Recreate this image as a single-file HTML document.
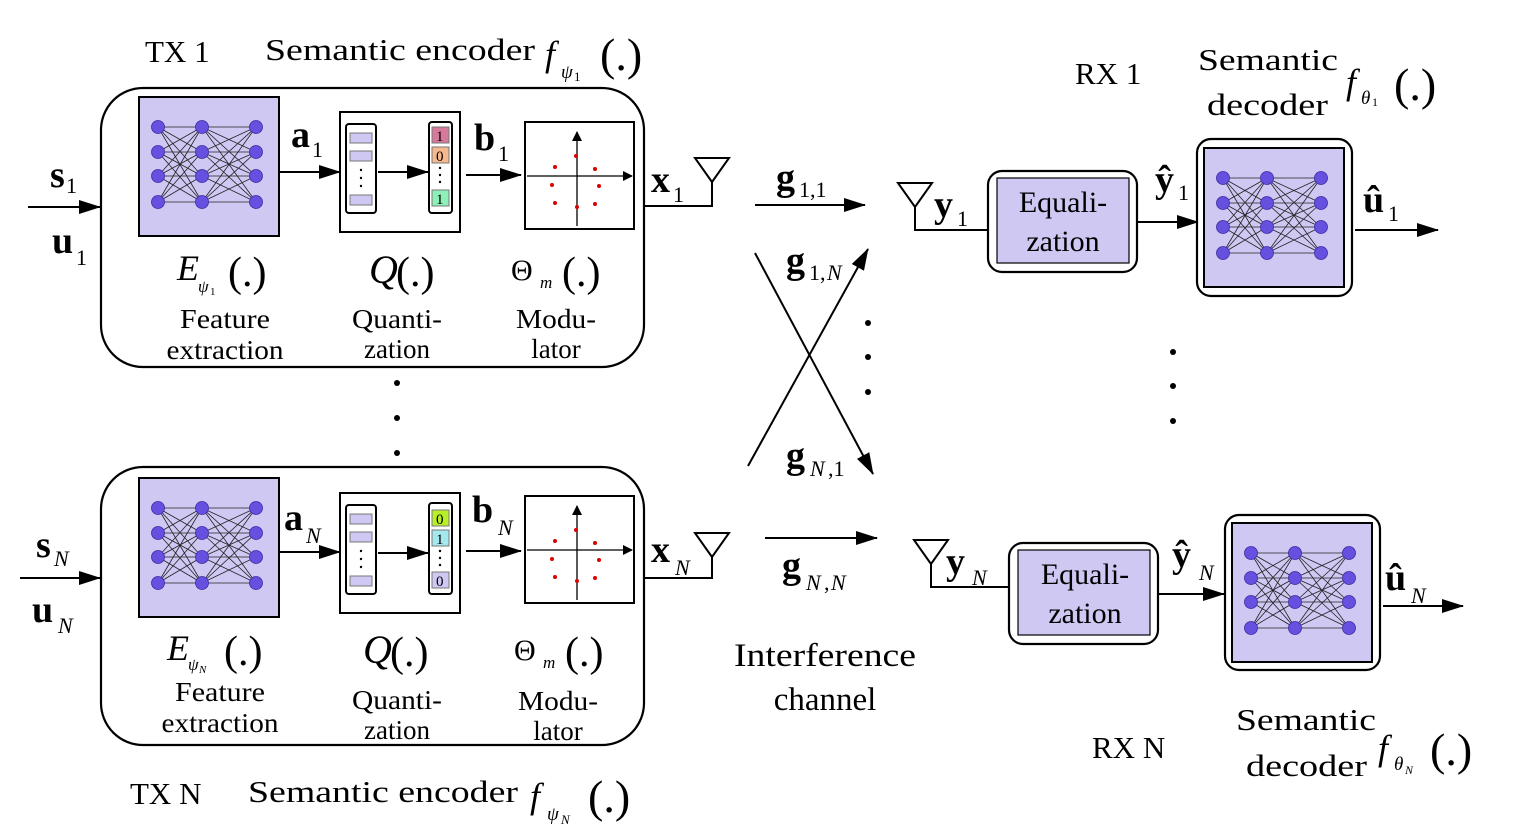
<!DOCTYPE html>
<html><head><meta charset="utf-8"><style>
html,body{margin:0;padding:0;background:#fff;}
svg{display:block;}
text{font-family:"Liberation Serif",serif;fill:#000;}
.b{font-weight:bold;}
.i{font-style:italic;}
</style></head><body>
<svg width="1526" height="840" viewBox="0 0 1526 840" xmlns="http://www.w3.org/2000/svg">
<defs>
<marker id="ar" markerWidth="10" markerHeight="10" refX="9" refY="5" orient="auto" markerUnits="userSpaceOnUse" viewBox="0 0 10 10">
<path d="M0,0 L10,5 L0,10 Z" fill="#000"/></marker>
<marker id="ab" markerWidth="22" markerHeight="14" refX="21" refY="7" orient="auto" markerUnits="userSpaceOnUse" viewBox="0 0 22 14">
<path d="M0,0 L22,7 L0,14 Z" fill="#000"/></marker>
<g id="nn">
<rect x="0" y="0" width="140" height="139" fill="#cfc8f3" stroke="#000" stroke-width="2"/>
<g stroke="#222" stroke-width="0.8">
<path d="M19,30L63,30M19,30L63,55M19,30L63,79M19,30L63,105M19,55L63,30M19,55L63,55M19,55L63,79M19,55L63,105M19,79L63,30M19,79L63,55M19,79L63,79M19,79L63,105M19,105L63,30M19,105L63,55M19,105L63,79M19,105L63,105"/>
<path d="M63,30L117,30M63,30L117,55M63,30L117,79M63,30L117,105M63,55L117,30M63,55L117,55M63,55L117,79M63,55L117,105M63,79L117,30M63,79L117,55M63,79L117,79M63,79L117,105M63,105L117,30M63,105L117,55M63,105L117,79M63,105L117,105"/>
</g>
<g fill="#6650e0" stroke="#3a2aa0" stroke-width="0.8">
<circle cx="19" cy="30" r="6.5"/><circle cx="19" cy="55" r="6.5"/><circle cx="19" cy="79" r="6.5"/><circle cx="19" cy="105" r="6.5"/>
<circle cx="63" cy="30" r="6.5"/><circle cx="63" cy="55" r="6.5"/><circle cx="63" cy="79" r="6.5"/><circle cx="63" cy="105" r="6.5"/>
<circle cx="117" cy="30" r="6.5"/><circle cx="117" cy="55" r="6.5"/><circle cx="117" cy="79" r="6.5"/><circle cx="117" cy="105" r="6.5"/>
</g>
</g>
<g id="con">
<rect x="0" y="0" width="109" height="107" fill="#fff" stroke="#000" stroke-width="2"/>
<line x1="52" y1="104" x2="52" y2="10" stroke="#000" stroke-width="1.3" marker-end="url(#ar)"/>
<line x1="2" y1="54" x2="107" y2="54" stroke="#000" stroke-width="1.3" marker-end="url(#ar)"/>
<g fill="#d00"><circle cx="51" cy="34" r="2"/><circle cx="30" cy="45" r="2"/><circle cx="70" cy="47" r="2"/><circle cx="27" cy="63" r="2"/><circle cx="74" cy="64" r="2"/><circle cx="30" cy="81" r="2"/><circle cx="52" cy="85" r="2"/><circle cx="70" cy="82" r="2"/></g>
</g>
<g id="qlft">
<rect x="6" y="12" width="30" height="89" rx="3" fill="#fff" stroke="#000" stroke-width="2"/>
<rect x="10" y="21" width="22" height="10" fill="#cfc8f3" stroke="#777"/>
<rect x="10" y="39" width="22" height="10" fill="#cfc8f3" stroke="#777"/>
<rect x="10" y="83" width="22" height="10" fill="#cfc8f3" stroke="#777"/>
<circle cx="21" cy="58" r="1.2"/><circle cx="21" cy="66" r="1.2"/><circle cx="21" cy="74" r="1.2"/>
</g>
</defs>

<!-- TX1 -->
<text x="145" y="62" font-size="31">TX 1</text>
<text x="265" y="60" font-size="31" textLength="270" lengthAdjust="spacingAndGlyphs">Semantic encoder</text>
<text x="545" y="66" font-size="36" class="i">f</text><text x="561" y="78" font-size="19" class="i">ψ</text><text x="574" y="81" font-size="13">1</text>
<text x="600" y="70" font-size="46">(.)</text>
<rect x="101" y="88" width="543" height="279" rx="42" fill="none" stroke="#000" stroke-width="2.2"/>
<use href="#nn" x="139" y="97"/>
<rect x="340" y="112" width="120" height="120" fill="#fff" stroke="#000" stroke-width="2"/>
<use href="#qlft" x="340" y="112"/>
<rect x="429" y="122" width="23" height="91" rx="3" fill="#fff" stroke="#000" stroke-width="2"/>
<rect x="432" y="127" width="17" height="16" fill="#d7799b" stroke="#777"/><text x="436" y="141" font-size="15">1</text>
<rect x="432" y="147" width="17" height="16" fill="#f6b88d" stroke="#777"/><text x="436" y="161" font-size="15">0</text>
<circle cx="440" cy="168" r="1.2"/><circle cx="440" cy="175" r="1.2"/><circle cx="440" cy="182" r="1.2"/>
<rect x="432" y="190" width="17" height="16" fill="#8df0b8" stroke="#777"/><text x="436" y="204" font-size="15">1</text>
<use href="#con" x="525" y="122"/>
<line x1="279" y1="172" x2="340" y2="172" stroke="#000" stroke-width="2" marker-end="url(#ab)"/>
<line x1="378" y1="172" x2="428" y2="172" stroke="#000" stroke-width="2" marker-end="url(#ab)"/>
<line x1="466" y1="175" x2="521" y2="175" stroke="#000" stroke-width="2" marker-end="url(#ab)"/>
<text x="291" y="147" font-size="38" class="b">a</text><text x="312" y="157" font-size="22">1</text>
<text x="474" y="150" font-size="38" class="b">b</text><text x="498" y="161" font-size="22">1</text>
<text x="177" y="280" font-size="36" class="i">E</text><text x="198" y="292" font-size="17" class="i">ψ</text><text x="210" y="295" font-size="11">1</text><text x="228" y="286" font-size="42">(.)</text>
<text x="369" y="283" font-size="40" class="i">Q</text><text x="396" y="286" font-size="42">(.)</text>
<text x="511" y="280" font-size="30">Θ</text><text x="540" y="288" font-size="17" class="i">m</text><text x="562" y="286" font-size="42">(.)</text>
<text x="225" y="328" font-size="27" text-anchor="middle" textLength="90" lengthAdjust="spacingAndGlyphs">Feature</text>
<text x="225" y="359" font-size="27" text-anchor="middle" textLength="117" lengthAdjust="spacingAndGlyphs">extraction</text>
<text x="397" y="328" font-size="27" text-anchor="middle" textLength="90" lengthAdjust="spacingAndGlyphs">Quanti-</text>
<text x="397" y="358" font-size="27" text-anchor="middle">zation</text>
<text x="556" y="328" font-size="27" text-anchor="middle" textLength="80" lengthAdjust="spacingAndGlyphs">Modu-</text>
<text x="556" y="358" font-size="27" text-anchor="middle">lator</text>
<line x1="28" y1="207" x2="100" y2="207" stroke="#000" stroke-width="2" marker-end="url(#ab)"/>
<text x="50" y="187" font-size="38" class="b">s</text><text x="66" y="193" font-size="22">1</text>
<text x="52" y="253" font-size="38" class="b">u</text><text x="76" y="265" font-size="22">1</text>
<polyline points="644,206 712,206 712,182" fill="none" stroke="#000" stroke-width="2"/>
<path d="M695,158 L729,158 L712,182 Z" fill="none" stroke="#000" stroke-width="2"/>
<text x="651" y="192" font-size="38" class="b">x</text><text x="673" y="202" font-size="22">1</text>

<!-- dots -->
<g fill="#000"><circle cx="397" cy="383" r="3"/><circle cx="397" cy="418" r="3"/><circle cx="397" cy="453" r="3"/>
<circle cx="868" cy="323" r="3"/><circle cx="868" cy="357" r="3"/><circle cx="868" cy="392" r="3"/>
<circle cx="1173" cy="352" r="3"/><circle cx="1173" cy="386" r="3"/><circle cx="1173" cy="421" r="3"/></g>

<!-- TXN -->
<rect x="101" y="467" width="543" height="278" rx="42" fill="none" stroke="#000" stroke-width="2.2"/>
<use href="#nn" x="139" y="478"/>
<rect x="340" y="493" width="120" height="120" fill="#fff" stroke="#000" stroke-width="2"/>
<use href="#qlft" x="340" y="493"/>
<rect x="429" y="503" width="23" height="91" rx="3" fill="#fff" stroke="#000" stroke-width="2"/>
<rect x="432" y="510" width="17" height="16" fill="#b8f028" stroke="#777"/><text x="436" y="524" font-size="15">0</text>
<rect x="432" y="530" width="17" height="16" fill="#a5e8f0" stroke="#777"/><text x="436" y="544" font-size="15">1</text>
<circle cx="440" cy="551" r="1.2"/><circle cx="440" cy="558" r="1.2"/><circle cx="440" cy="565" r="1.2"/>
<rect x="432" y="572" width="17" height="16" fill="#cfc8f3" stroke="#777"/><text x="436" y="586" font-size="15">0</text>
<use href="#con" x="525" y="496"/>
<line x1="279" y1="552" x2="340" y2="552" stroke="#000" stroke-width="2" marker-end="url(#ab)"/>
<line x1="378" y1="553" x2="428" y2="553" stroke="#000" stroke-width="2" marker-end="url(#ab)"/>
<line x1="466" y1="551" x2="521" y2="551" stroke="#000" stroke-width="2" marker-end="url(#ab)"/>
<text x="284" y="530" font-size="38" class="b">a</text><text x="306" y="543" font-size="22" class="i">N</text>
<text x="472" y="522" font-size="38" class="b">b</text><text x="498" y="535" font-size="22" class="i">N</text>
<text x="167" y="660" font-size="36" class="i">E</text><text x="188" y="670" font-size="17" class="i">ψ</text><text x="199" y="673" font-size="11" class="i">N</text><text x="224" y="665" font-size="42">(.)</text>
<text x="363" y="663" font-size="40" class="i">Q</text><text x="390" y="666" font-size="42">(.)</text>
<text x="514" y="660" font-size="30">Θ</text><text x="543" y="668" font-size="17" class="i">m</text><text x="565" y="666" font-size="42">(.)</text>
<text x="220" y="701" font-size="27" text-anchor="middle" textLength="90" lengthAdjust="spacingAndGlyphs">Feature</text>
<text x="220" y="732" font-size="27" text-anchor="middle" textLength="117" lengthAdjust="spacingAndGlyphs">extraction</text>
<text x="397" y="709" font-size="27" text-anchor="middle" textLength="90" lengthAdjust="spacingAndGlyphs">Quanti-</text>
<text x="397" y="739" font-size="27" text-anchor="middle">zation</text>
<text x="558" y="710" font-size="27" text-anchor="middle" textLength="80" lengthAdjust="spacingAndGlyphs">Modu-</text>
<text x="558" y="740" font-size="27" text-anchor="middle">lator</text>
<line x1="20" y1="578" x2="100" y2="578" stroke="#000" stroke-width="2" marker-end="url(#ab)"/>
<text x="36" y="557" font-size="38" class="b">s</text><text x="54" y="566" font-size="22" class="i">N</text>
<text x="32" y="622" font-size="38" class="b">u</text><text x="58" y="633" font-size="22" class="i">N</text>
<polyline points="644,578 712,578 712,557" fill="none" stroke="#000" stroke-width="2"/>
<path d="M695,533 L729,533 L712,557 Z" fill="none" stroke="#000" stroke-width="2"/>
<text x="651" y="562" font-size="38" class="b">x</text><text x="675" y="575" font-size="22" class="i">N</text>
<text x="130" y="804" font-size="31">TX N</text>
<text x="248" y="802" font-size="31" textLength="270" lengthAdjust="spacingAndGlyphs">Semantic encoder</text>
<text x="530" y="808" font-size="36" class="i">f</text><text x="547" y="820" font-size="19" class="i">ψ</text><text x="561" y="824" font-size="13" class="i">N</text>
<text x="588" y="812" font-size="46">(.)</text>

<!-- channel -->
<line x1="755" y1="205" x2="865" y2="205" stroke="#000" stroke-width="2" marker-end="url(#ab)"/>
<line x1="765" y1="538" x2="877" y2="538" stroke="#000" stroke-width="2" marker-end="url(#ab)"/>
<line x1="748" y1="466" x2="868" y2="249" stroke="#000" stroke-width="2" marker-end="url(#ab)"/>
<line x1="755" y1="253" x2="873" y2="474" stroke="#000" stroke-width="2" marker-end="url(#ab)"/>
<text x="776" y="190" font-size="38" class="b">g</text><text x="799" y="197" font-size="22">1,1</text>
<text x="786" y="273" font-size="38" class="b">g</text><text x="809" y="280" font-size="22">1,</text><text x="827" y="280" font-size="22" class="i">N</text>
<text x="786" y="468" font-size="38" class="b">g</text><text x="810" y="476" font-size="22" class="i">N</text><text x="828" y="476" font-size="22">,1</text>
<text x="782" y="578" font-size="38" class="b">g</text><text x="806" y="590" font-size="22" class="i">N</text><text x="824" y="590" font-size="22">,</text><text x="831" y="590" font-size="22" class="i">N</text>
<text x="825" y="666" font-size="33" text-anchor="middle" textLength="182" lengthAdjust="spacingAndGlyphs">Interference</text>
<text x="825" y="710" font-size="33" text-anchor="middle">channel</text>

<!-- RX1 -->
<text x="1075" y="84" font-size="31">RX 1</text>
<text x="1198" y="70" font-size="31" textLength="140" lengthAdjust="spacingAndGlyphs">Semantic</text>
<text x="1207" y="115" font-size="31" textLength="121" lengthAdjust="spacingAndGlyphs">decoder</text>
<text x="1346" y="94" font-size="36" class="i">f</text><text x="1361" y="104" font-size="19" class="i">θ</text><text x="1372" y="106" font-size="12">1</text>
<text x="1394" y="100" font-size="46">(.)</text>
<path d="M898,183 L932,183 L915,207 Z" fill="none" stroke="#000" stroke-width="2"/>
<polyline points="915,207 915,230 988,230" fill="none" stroke="#000" stroke-width="2"/>
<text x="934" y="217" font-size="38" class="b">y</text><text x="957" y="226" font-size="22">1</text>
<rect x="988" y="171" width="149" height="101" rx="14" fill="#fff" stroke="#000" stroke-width="2.2"/>
<rect x="997" y="178" width="132" height="85" fill="#cfc8f3" stroke="#000" stroke-width="1.2"/>
<text x="1063" y="212" font-size="30" text-anchor="middle">Equali-</text>
<text x="1063" y="251" font-size="30" text-anchor="middle">zation</text>
<line x1="1137" y1="222" x2="1198" y2="222" stroke="#000" stroke-width="2" marker-end="url(#ab)"/>
<text x="1155" y="192" font-size="38" class="b">ŷ</text><text x="1178" y="200" font-size="22">1</text>
<rect x="1197" y="139" width="155" height="157" rx="14" fill="#fff" stroke="#000" stroke-width="2.2"/>
<use href="#nn" x="1204" y="148"/>
<line x1="1355" y1="230" x2="1438" y2="230" stroke="#000" stroke-width="2" marker-end="url(#ab)"/>
<text x="1363" y="212" font-size="38" class="b">û</text><text x="1388" y="221" font-size="22">1</text>

<!-- RXN -->
<path d="M914,540 L948,540 L931,564 Z" fill="none" stroke="#000" stroke-width="2"/>
<polyline points="931,564 931,587 1009,587" fill="none" stroke="#000" stroke-width="2"/>
<text x="946" y="574" font-size="38" class="b">y</text><text x="972" y="585" font-size="22" class="i">N</text>
<rect x="1009" y="543" width="149" height="101" rx="14" fill="#fff" stroke="#000" stroke-width="2.2"/>
<rect x="1018" y="550" width="132" height="85" fill="#cfc8f3" stroke="#000" stroke-width="1.2"/>
<text x="1085" y="584" font-size="30" text-anchor="middle">Equali-</text>
<text x="1085" y="623" font-size="30" text-anchor="middle">zation</text>
<line x1="1158" y1="594" x2="1224" y2="594" stroke="#000" stroke-width="2" marker-end="url(#ab)"/>
<text x="1172" y="567" font-size="38" class="b">ŷ</text><text x="1199" y="580" font-size="22" class="i">N</text>
<rect x="1225" y="515" width="155" height="155" rx="14" fill="#fff" stroke="#000" stroke-width="2.2"/>
<use href="#nn" x="1232" y="523"/>
<line x1="1383" y1="606" x2="1463" y2="606" stroke="#000" stroke-width="2" marker-end="url(#ab)"/>
<text x="1385" y="590" font-size="38" class="b">û</text><text x="1411" y="603" font-size="22" class="i">N</text>
<text x="1092" y="758" font-size="31">RX N</text>
<text x="1236" y="730" font-size="31" textLength="140" lengthAdjust="spacingAndGlyphs">Semantic</text>
<text x="1246" y="776" font-size="31" textLength="121" lengthAdjust="spacingAndGlyphs">decoder</text>
<text x="1378" y="760" font-size="36" class="i">f</text><text x="1394" y="770" font-size="19" class="i">θ</text><text x="1405" y="774" font-size="12" class="i">N</text>
<text x="1430" y="765" font-size="46">(.)</text>
</svg>
</body></html>
